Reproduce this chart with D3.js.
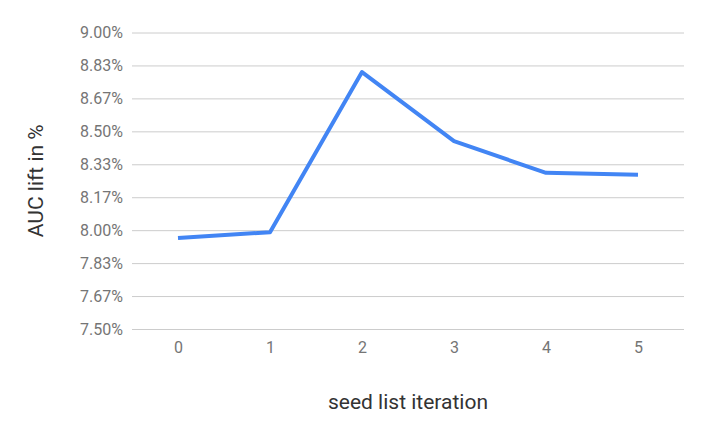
<!DOCTYPE html>
<html>
<head>
<meta charset="utf-8">
<script src="https://cdn.jsdelivr.net/npm/d3@7"></script>
<style>
  body { margin: 0; background: #fff; }
  text { font-family: Roboto, "Noto Sans", sans-serif; }
</style>
</head>
<body>
<div id="chart"></div>
<script>
// chart data
const iterations = ["0", "1", "2", "3", "4", "5"];
const aucLift = [7.96, 7.99, 8.80, 8.45, 8.29, 8.28];
const yTicks = [7.5, 7.5 + 1/6, 7.5 + 2/6, 8.0, 8.0 + 1/6, 8.0 + 2/6, 8.5, 8.5 + 1/6, 8.5 + 2/6, 9.0];

const width = 706;
const height = 437;
const margin = { top: 32.5, right: 22, bottom: 108, left: 132 };

const svg = d3.select("#chart")
  .append("svg")
  .attr("width", width)
  .attr("height", height);

const xScale = d3.scalePoint()
  .domain(iterations)
  .range([margin.left, width - margin.right])
  .padding(0.5);

const yScale = d3.scaleLinear()
  .domain([7.5, 9.0])
  .range([height - margin.bottom, margin.top]);

// gridlines + y labels
const yAxis = svg.append("g")
  .attr("transform", `translate(${margin.left}, 0)`)
  .call(d3.axisLeft(yScale)
    .tickValues(yTicks)
    .tickSize(-(width - margin.left - margin.right))
    .tickPadding(9)
    .tickFormat(d => d.toFixed(2) + "%"));
yAxis.select(".domain").remove();
yAxis.selectAll("line").attr("stroke", "#cccccc").attr("stroke-width", 1);
yAxis.selectAll("text")
  .attr("fill", "#757575")
  .style("font-size", "16px");

// x labels
const xAxis = svg.append("g")
  .attr("transform", `translate(0, ${height - margin.bottom})`)
  .call(d3.axisBottom(xScale).tickSize(0).tickPadding(13));
xAxis.select(".domain").remove();
xAxis.selectAll("text")
  .attr("fill", "#757575")
  .style("font-size", "16px");

// line
const line = d3.line()
  .x((d, i) => xScale(iterations[i]))
  .y(d => yScale(d));

svg.append("path")
  .datum(aucLift)
  .attr("fill", "none")
  .attr("stroke", "#4285f4")
  .attr("stroke-width", 4)
  .attr("stroke-linejoin", "round")
  .attr("d", line);

// axis titles
svg.append("text")
  .attr("x", (margin.left + width - margin.right) / 2)
  .attr("y", 409)
  .attr("text-anchor", "middle")
  .attr("fill", "#333")
  .style("font-size", "21px")
  .text("seed list iteration");

svg.append("text")
  .attr("transform", `translate(43, ${(margin.top + height - margin.bottom) / 2}) rotate(-90)`)
  .attr("text-anchor", "middle")
  .attr("fill", "#333")
  .style("font-size", "21px")
  .text("AUC lift in %");
</script>
</body>
</html>
